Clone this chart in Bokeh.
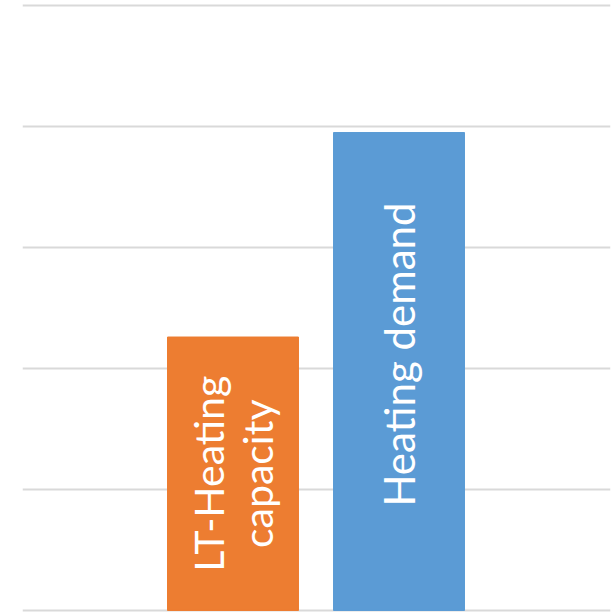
from math import pi
from bokeh.plotting import figure
from bokeh.models import Range1d, ColumnDataSource
from bokeh.core.properties import value
from bokeh.embed import file_html
from bokeh.resources import INLINE

categories = ["LT-Heating\ncapacity", "Heating demand"]
values = [2.26, 3.95]
colors = ["#ED7D31", "#5B9BD5"]
positions = [0, 1]
y_ticks = [0, 1, 2, 3, 4, 5]

p = figure(width=616, height=613, output_backend="svg", toolbar_location=None,
           x_range=Range1d(-1.268, 2.274), y_range=Range1d(-0.0248, 5.041),
           min_border_left=22, min_border_right=6, min_border_top=0, min_border_bottom=0)
p.outline_line_color = None
p.xaxis.visible = False
p.yaxis.visible = False
p.yaxis.ticker = y_ticks
p.xgrid.grid_line_color = None
p.ygrid.grid_line_color = "#D9D9D9"
p.ygrid.grid_line_width = 2

src = ColumnDataSource(dict(x=positions, top=values, color=colors))
p.vbar(x="x", top="top", width=0.789, color="color", source=src)

p.text(x=[positions[0]], y=[values[0] / 2], text=[categories[0]], angle=pi / 2,
       text_align="center", text_baseline="middle", text_color="white",
       text_font=value("Lato"), text_font_size="41px", text_line_height=1.0)
p.text(x=[positions[1]], y=[values[1] / 2], text=[categories[1]], angle=pi / 2,
       text_align="center", text_baseline="middle", text_color="white",
       text_font=value("Lato"), text_font_size="42px", y_offset=-17)

open("out.html", "w").write(file_html(p, INLINE))
